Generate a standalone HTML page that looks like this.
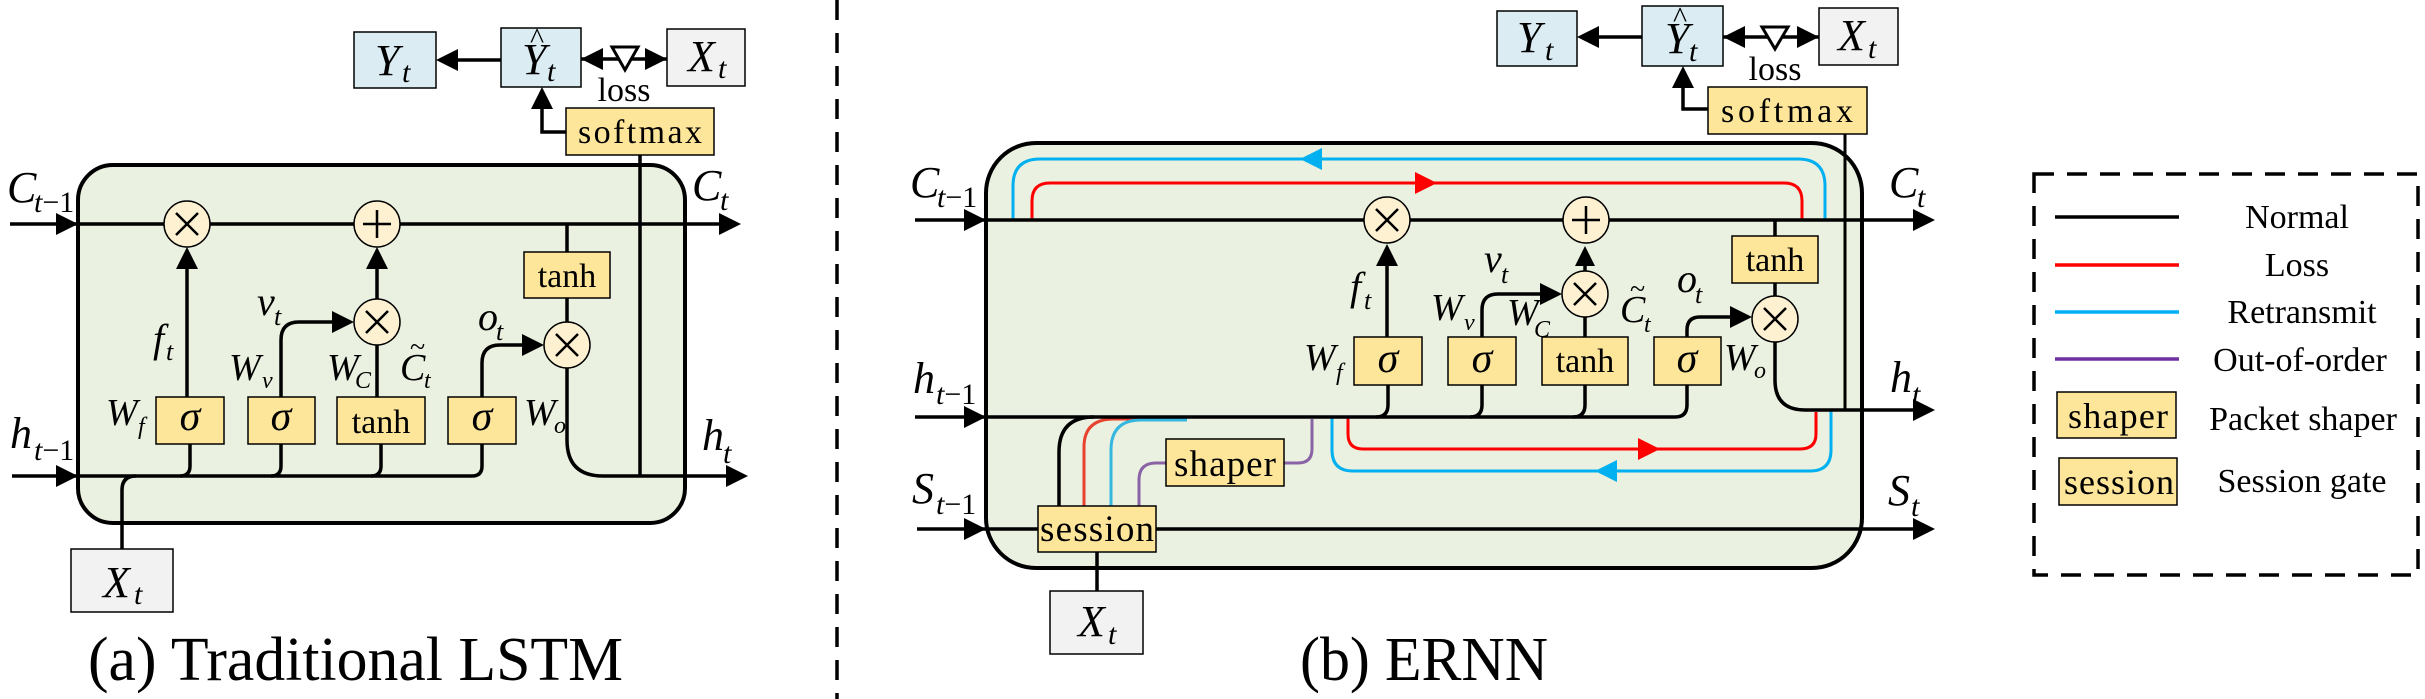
<!DOCTYPE html>
<html><head><meta charset="utf-8"><style>
html,body{margin:0;padding:0;background:#fff}
svg{display:block;font-family:"Liberation Serif","DejaVu Serif",serif}
svg text{font-family:"Liberation Serif","DejaVu Serif",serif;fill:#000}
.i{font-style:italic}
</style></head><body>
<svg width="2425" height="699" viewBox="0 0 2425 699" xmlns="http://www.w3.org/2000/svg" font-family="Liberation Serif, DejaVu Serif, serif">
<g fill="none" stroke="#000" stroke-width="3.5">
<rect x="78" y="165" width="607" height="358" rx="35" fill="#ebf1e1" stroke-width="4"/>
<line x1="10" y1="224" x2="725" y2="224"/>
<line x1="12" y1="476" x2="80" y2="476"/>
<path d="M190 444 V466 Q190 476 180 476"/>
<path d="M281 444 V466 Q281 476 271 476"/>
<path d="M381 444 V466 Q381 476 371 476"/>
<path d="M482 444 V466 Q482 476 472 476 H78"/>
<path d="M122 549 V490 Q122 476 136 476"/>
<path d="M567 368 V440 Q567 476 603 476 H732"/>
<line x1="640" y1="155" x2="640" y2="476"/>
<line x1="567" y1="224" x2="567" y2="252"/>
<line x1="567" y1="298" x2="567" y2="322"/>
<line x1="187" y1="397" x2="187" y2="265"/>
<path d="M281 397 V340 Q281 322 299 322 H336"/>
<line x1="377" y1="299" x2="377" y2="265"/>
<line x1="377" y1="397" x2="377" y2="345"/>
<path d="M482 397 V363 Q482 345 500 345 H526"/>
<line x1="501" y1="60" x2="452" y2="60"/>
<line x1="581" y1="59" x2="667" y2="59"/>
<path d="M566 132 H542 V104"/>
<line x1="837" y1="0" x2="837" y2="699" stroke-dasharray="20 13"/>
<rect x="986" y="143" width="876" height="425" rx="50" fill="#ebf1e1" stroke-width="4"/>
</g>
<g fill="none" stroke-width="3">
<path d="M1013 220 V186 Q1013 159 1040 159 H1798 Q1825 159 1825 186 V220" stroke="#00b0f0"/>
<path d="M1032 220 V201 Q1032 183 1050 183 H1784 Q1802 183 1802 201 V220" stroke="#ff0000"/>
<path d="M1348 417 V434 Q1348 449 1363 449 H1800 Q1816 449 1816 434 V412" stroke="#ff0000"/>
<path d="M1332 417 V450 Q1332 471 1353 471 H1810 Q1831 471 1831 450 V410" stroke="#00b0f0"/>
<path d="M1084 506 V447 Q1084 419 1114 419 H1172" stroke="#e8412f"/>
<path d="M1111 506 V450 Q1111 420 1141 420 H1187" stroke="#35b7e0"/>
<path d="M1139 506 V480 Q1139 463 1156 463 H1166" stroke="#8a62a6"/>
<path d="M1284 463 H1298 Q1312 463 1312 449 V419" stroke="#8a62a6"/>
</g>
<g fill="none" stroke="#000" stroke-width="3.5">
<line x1="915" y1="220" x2="1920" y2="220"/>
<path d="M1388 385 V405 Q1388 417 1376 417"/>
<path d="M1482 385 V405 Q1482 417 1470 417"/>
<path d="M1585 385 V405 Q1585 417 1573 417"/>
<path d="M1687 385 V405 Q1687 417 1675 417 H915"/>
<path d="M1059 506 V452 Q1059 417 1094 417"/>
<path d="M1775 342 V380 Q1775 410 1805 410 H1920"/>
<line x1="1845" y1="134" x2="1845" y2="410" stroke-width="3"/>
<line x1="917" y1="529" x2="1920" y2="529"/>
<line x1="1097" y1="552" x2="1097" y2="591"/>
<line x1="1387" y1="337" x2="1387" y2="262"/>
<path d="M1482 337 V310 Q1482 294 1498 294 H1545"/>
<line x1="1585" y1="271" x2="1585" y2="262"/>
<line x1="1585" y1="337" x2="1585" y2="317"/>
<path d="M1687 337 V330 Q1687 317 1700 317 H1735"/>
<line x1="1775" y1="220" x2="1775" y2="236"/>
<line x1="1775" y1="283" x2="1775" y2="296"/>
<line x1="1642" y1="37" x2="1593" y2="37"/>
<line x1="1723" y1="37" x2="1819" y2="37"/>
<path d="M1708 109 H1683 V82"/>
</g>
<g fill="#000">
<polygon points="78,224 56,213 56,235"/><polygon points="741,224 719,213 719,235"/>
<polygon points="78,476 56,465 56,487"/><polygon points="748,476 726,465 726,487"/>
<polygon points="187,247 176,269 198,269"/><polygon points="354,322 332,311 332,333"/>
<polygon points="377,247 366,269 388,269"/><polygon points="544,345 522,334 522,356"/>
<polygon points="436,60 458,49 458,71"/><polygon points="581,59 603,48 603,70"/>
<polygon points="667,59 645,48 645,70"/><polygon points="542,87 531,109 553,109"/>
<polygon points="986,220 964,209 964,231"/><polygon points="1935,220 1913,209 1913,231"/>
<polygon points="986,417 964,406 964,428"/><polygon points="1935,410 1913,399 1913,421"/>
<polygon points="986,529 964,518 964,540"/><polygon points="1935,529 1913,518 1913,540"/>
<polygon points="1387,244 1376,266 1398,266"/><polygon points="1562,294 1540,283 1540,305"/>
<polygon points="1585,246 1575,266 1595,266"/><polygon points="1752,317 1730,306 1730,328"/>
<polygon points="1577,37 1599,26 1599,48"/><polygon points="1723,37 1745,26 1745,48"/>
<polygon points="1819,37 1797,26 1797,48"/><polygon points="1683,66 1672,88 1694,88"/>
</g>
<polygon points="1300,159 1322,148 1322,170" fill="#00b0f0"/>
<polygon points="1437,183 1415,172 1415,194" fill="#ff0000"/>
<polygon points="1660,449 1638,438 1638,460" fill="#ff0000"/>
<polygon points="1595,471 1617,460 1617,482" fill="#00b0f0"/>
<polygon points="612,47 638,47 625,70" fill="#fff" stroke="#000" stroke-width="3"/>
<polygon points="1762,27 1788,27 1775,49" fill="#fff" stroke="#000" stroke-width="3"/>
<g stroke="#000" stroke-width="1.5">
<rect x="354" y="32" width="82" height="56" fill="#dbedf3"/>
<rect x="501" y="28" width="80" height="59" fill="#dbedf3"/>
<rect x="667" y="29" width="78" height="57" fill="#f2f2f2"/>
<rect x="566" y="108" width="148" height="47" fill="#fde59a"/>
<rect x="524" y="252" width="86" height="46" fill="#fde59a"/>
<rect x="156" y="397" width="68" height="47" fill="#fde59a"/>
<rect x="248" y="397" width="67" height="47" fill="#fde59a"/>
<rect x="337" y="397" width="88" height="47" fill="#fde59a"/>
<rect x="448" y="397" width="68" height="47" fill="#fde59a"/>
<rect x="71" y="549" width="102" height="63" fill="#f2f2f2"/>
<circle cx="187" cy="224" r="23" fill="#fdf1d2"/>
<circle cx="377" cy="224" r="23" fill="#fdf1d2"/>
<circle cx="377" cy="322" r="23" fill="#fdf1d2"/>
<circle cx="567" cy="345" r="23" fill="#fdf1d2"/>
<rect x="1497" y="11" width="80" height="55" fill="#dbedf3"/>
<rect x="1642" y="6" width="81" height="60" fill="#dbedf3"/>
<rect x="1819" y="8" width="79" height="57" fill="#f2f2f2"/>
<rect x="1708" y="87" width="159" height="47" fill="#fde59a"/>
<rect x="1732" y="236" width="86" height="47" fill="#fde59a"/>
<rect x="1354" y="337" width="68" height="48" fill="#fde59a"/>
<rect x="1448" y="337" width="68" height="48" fill="#fde59a"/>
<rect x="1542" y="337" width="86" height="48" fill="#fde59a"/>
<rect x="1654" y="337" width="67" height="48" fill="#fde59a"/>
<rect x="1166" y="439" width="118" height="47" fill="#fde59a"/>
<rect x="1038" y="506" width="118" height="46" fill="#fde59a"/>
<rect x="1050" y="591" width="93" height="63" fill="#f2f2f2"/>
<circle cx="1387" cy="220" r="23" fill="#fdf1d2"/>
<circle cx="1586" cy="220" r="23" fill="#fdf1d2"/>
<circle cx="1585" cy="294" r="23" fill="#fdf1d2"/>
<circle cx="1775" cy="319" r="23" fill="#fdf1d2"/>
<rect x="2057" y="392" width="119" height="46" fill="#fde59a"/>
<rect x="2059" y="458" width="118" height="47" fill="#fde59a"/>
</g>
<g stroke="#000" stroke-width="2.5">
<path d="M176 213 L198 235 M198 213 L176 235"/>
<path d="M377 210 V238 M363 224 H391"/>
<path d="M366 311 L388 333 M388 311 L366 333"/>
<path d="M556 334 L578 356 M578 334 L556 356"/>
<path d="M1376 209 L1398 231 M1398 209 L1376 231"/>
<path d="M1586 206 V234 M1572 220 H1600"/>
<path d="M1574 283 L1596 305 M1596 283 L1574 305"/>
<path d="M1764 308 L1786 330 M1786 308 L1764 330"/>
</g>
<rect x="2034" y="174" width="384" height="401" fill="none" stroke="#000" stroke-width="3.5" stroke-dasharray="20 13"/>
<g stroke-width="3.5">
<line x1="2055" y1="217" x2="2179" y2="217" stroke="#000"/>
<line x1="2055" y1="265" x2="2179" y2="265" stroke="#ff0000"/>
<line x1="2055" y1="312" x2="2179" y2="312" stroke="#00b0f0"/>
<line x1="2055" y1="359" x2="2179" y2="359" stroke="#7030a0"/>
</g>
<g font-size="34" text-anchor="middle">
<text x="2297" y="228">Normal</text>
<text x="2297" y="276">Loss</text>
<text x="2302" y="323">Retransmit</text>
<text x="2300" y="371">Out-of-order</text>
<text x="2303" y="430">Packet shaper</text>
<text x="2302" y="492">Session gate</text>
</g>
<text x="2068" y="428" font-size="36" textLength="100">shaper</text>
<text x="2064" y="494" font-size="36" textLength="110">session</text>
<text class="i" x="375" y="75" font-size="44">Y</text><text class="i" x="402" y="82" font-size="30">t</text>
<text class="i" x="522" y="74" font-size="44">Y</text><text x="530" y="48" font-size="30">^</text><text class="i" x="547" y="81" font-size="30">t</text>
<text class="i" x="688" y="71" font-size="44">X</text><text class="i" x="718" y="78" font-size="30">t</text>
<text x="624" y="101" font-size="34" text-anchor="middle">loss</text>
<text x="640" y="143" font-size="34" text-anchor="middle" textLength="124">softmax</text>
<text x="567" y="287" font-size="34" text-anchor="middle">tanh</text>
<text x="381" y="433" font-size="34" text-anchor="middle">tanh</text>
<text class="i" x="190" y="430" font-size="42" text-anchor="middle">σ</text>
<text class="i" x="281" y="430" font-size="42" text-anchor="middle">σ</text>
<text class="i" x="482" y="430" font-size="42" text-anchor="middle">σ</text>
<text class="i" x="7" y="202" font-size="44">C</text><text x="34" y="212" font-size="30"><tspan font-style="italic">t</tspan>−1</text>
<text class="i" x="692" y="200" font-size="44">C</text><text class="i" x="720" y="210" font-size="30">t</text>
<text class="i" x="10" y="448" font-size="44">h</text><text x="34" y="460" font-size="30"><tspan font-style="italic">t</tspan>−1</text>
<text class="i" x="702" y="450" font-size="44">h</text><text class="i" x="723" y="463" font-size="30">t</text>
<text class="i" x="153" y="352" font-size="40">f</text><text class="i" x="166" y="360" font-size="26">t</text>
<text class="i" x="257" y="315" font-size="40">v</text><text class="i" x="274" y="325" font-size="26">t</text>
<text class="i" x="229" y="380" font-size="38">W</text><text class="i" x="262" y="388" font-size="24">v</text>
<text class="i" x="327" y="380" font-size="38">W</text><text class="i" x="355" y="388" font-size="24">C</text>
<text class="i" x="400" y="380" font-size="38">C</text><text x="410" y="356" font-size="28">~</text><text class="i" x="424" y="388" font-size="24">t</text>
<text class="i" x="106" y="425" font-size="38">W</text><text class="i" x="138" y="434" font-size="24">f</text>
<text class="i" x="478" y="330" font-size="40">o</text><text class="i" x="496" y="340" font-size="26">t</text>
<text class="i" x="524" y="425" font-size="38">W</text><text class="i" x="554" y="433" font-size="24">o</text>
<text class="i" x="103" y="597" font-size="44">X</text><text class="i" x="134" y="604" font-size="30">t</text>
<text x="88" y="680" font-size="62" textLength="535" lengthAdjust="spacingAndGlyphs">(a) Traditional LSTM</text>
<text class="i" x="1517" y="52" font-size="44">Y</text><text class="i" x="1545" y="60" font-size="30">t</text>
<text class="i" x="1665" y="53" font-size="44">Y</text><text x="1673" y="27" font-size="30">^</text><text class="i" x="1689" y="61" font-size="30">t</text>
<text class="i" x="1838" y="50" font-size="44">X</text><text class="i" x="1868" y="58" font-size="30">t</text>
<text x="1775" y="80" font-size="34" text-anchor="middle">loss</text>
<text x="1787" y="122" font-size="34" text-anchor="middle" textLength="132">softmax</text>
<text x="1775" y="271" font-size="34" text-anchor="middle">tanh</text>
<text x="1585" y="372" font-size="34" text-anchor="middle">tanh</text>
<text class="i" x="1388" y="372" font-size="42" text-anchor="middle">σ</text>
<text class="i" x="1482" y="372" font-size="42" text-anchor="middle">σ</text>
<text class="i" x="1687" y="372" font-size="42" text-anchor="middle">σ</text>
<text x="1225" y="476" font-size="37" text-anchor="middle" textLength="102">shaper</text>
<text x="1097" y="541" font-size="37" text-anchor="middle" textLength="114">session</text>
<text class="i" x="1078" y="636" font-size="44">X</text><text class="i" x="1108" y="644" font-size="30">t</text>
<text class="i" x="910" y="197" font-size="44">C</text><text x="937" y="207" font-size="30"><tspan font-style="italic">t</tspan>−1</text>
<text class="i" x="1889" y="197" font-size="44">C</text><text class="i" x="1917" y="207" font-size="30">t</text>
<text class="i" x="913" y="393" font-size="44">h</text><text x="936" y="404" font-size="30"><tspan font-style="italic">t</tspan>−1</text>
<text class="i" x="1890" y="392" font-size="44">h</text><text class="i" x="1912" y="404" font-size="30">t</text>
<text class="i" x="912" y="503" font-size="44">S</text><text x="936" y="514" font-size="30"><tspan font-style="italic">t</tspan>−1</text>
<text class="i" x="1888" y="505" font-size="44">S</text><text class="i" x="1911" y="516" font-size="30">t</text>
<text class="i" x="1350" y="300" font-size="40">f</text><text class="i" x="1364" y="309" font-size="26">t</text>
<text class="i" x="1484" y="272" font-size="40">v</text><text class="i" x="1501" y="283" font-size="26">t</text>
<text class="i" x="1431" y="320" font-size="38">W</text><text class="i" x="1464" y="330" font-size="24">v</text>
<text class="i" x="1507" y="325" font-size="38">W</text><text class="i" x="1534" y="337" font-size="24">C</text>
<text class="i" x="1620" y="322" font-size="38">C</text><text x="1630" y="298" font-size="28">~</text><text class="i" x="1644" y="332" font-size="24">t</text>
<text class="i" x="1677" y="292" font-size="40">o</text><text class="i" x="1695" y="303" font-size="26">t</text>
<text class="i" x="1304" y="370" font-size="38">W</text><text class="i" x="1336" y="380" font-size="24">f</text>
<text class="i" x="1724" y="370" font-size="38">W</text><text class="i" x="1754" y="378" font-size="24">o</text>
<text x="1300" y="680" font-size="62" textLength="248" lengthAdjust="spacingAndGlyphs">(b) ERNN</text>
</svg>
</body></html>
